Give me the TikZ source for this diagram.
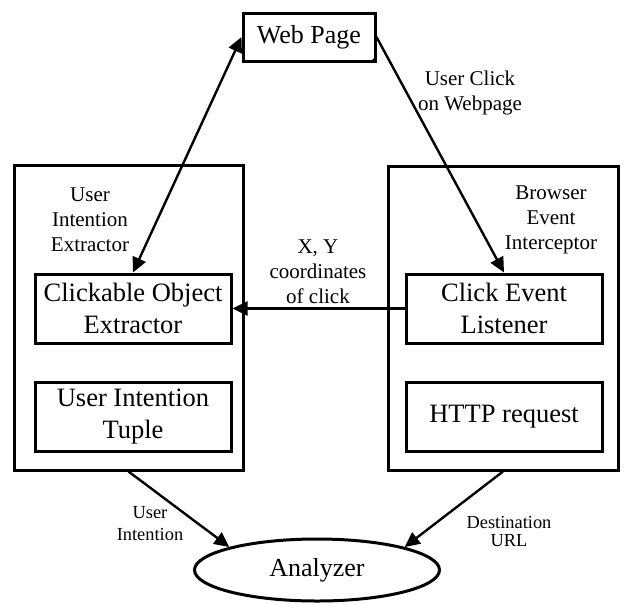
\documentclass[tikz,border=0pt]{standalone}
\usepackage{fontspec}
\setmainfont{Liberation Serif}
\usepackage{tikz}
\usetikzlibrary{arrows.meta, shapes.geometric}

\begin{document}
\begin{tikzpicture}[x=1pt, y=-1pt,
    outerbox/.style={draw, line width=3pt, inner sep=0pt},
    innerbox/.style={draw, line width=3pt, inner sep=0pt, align=center,
      minimum width=196pt, minimum height=69pt,
      font=\fontsize{26.5}{32}\selectfont},
    note/.style={align=center, inner sep=0pt, font=\fontsize{21}{25}\selectfont},
    smallnote/.style={align=center, inner sep=0pt},
    link/.style={line width=2.4pt, -{Triangle[length=15pt,width=14pt]}},
    twolink/.style={line width=2.4pt, {Triangle[length=15pt,width=14pt]}-{Triangle[length=15pt,width=14pt]}}]
      \useasboundingbox (0,0) rectangle (624,603);
      \node[outerbox, minimum width=229pt, minimum height=305pt] (extractor) at (128.5,317.5) {};
      \node[outerbox, minimum width=230pt, minimum height=304pt] (interceptor) at (503,318) {};
      \node[note] (extractorlbl) at (90,220) {User\\Intention\\Extractor};
      \node[note] (interceptorlbl) at (551,220) {Browser\\Event\\Interceptor};
      \node[innerbox] (clickable) at (133,308.5) {Clickable Object\\Extractor};
      \node[innerbox] (tuple) at (133,416.5) {User Intention\\Tuple};
      \node[innerbox] (listener) at (504,308.5) {Click Event\\Listener};
      \node[innerbox] (http) at (504,416.5) {HTTP request};
      \node[draw, line width=3pt, inner sep=0pt, minimum width=132pt, minimum height=48pt,
        font=\fontsize{26}{31}\selectfont] (webpage) at (309,37) {Web Page};
      \fill (webpage.south east) -- ++(-7,0) -- ++(7,-7) -- cycle;
      \node[draw, ellipse, line width=3pt, inner sep=0pt, minimum width=245pt, minimum height=62pt,
        font=\fontsize{26}{31}\selectfont] (analyzer) at (317,570) {Analyzer};
      \node[note] (clicklbl) at (470,92.5) {User Click\\on Webpage};
      \node[note] (coordlbl) at (318,272) {X, Y\\coordinates\\of click};
      \node[smallnote, font=\fontsize{18.4}{22}\selectfont] (intentlbl) at (150,524) {User\\Intention};
      \node[smallnote, font=\fontsize{18.4}{18}\selectfont] (urllbl) at (509,531) {Destination\\URL};
      \draw[twolink] (webpage.west) -- (clickable.north);
      \draw[link] (webpage.east) -- (listener.north);
      \draw[link] (listener.west) -- (clickable.east);
      \draw[link] (extractor.south) -- (analyzer.north west);
      \draw[link] (interceptor.south) -- (analyzer.north east);
\end{tikzpicture}
\end{document}
